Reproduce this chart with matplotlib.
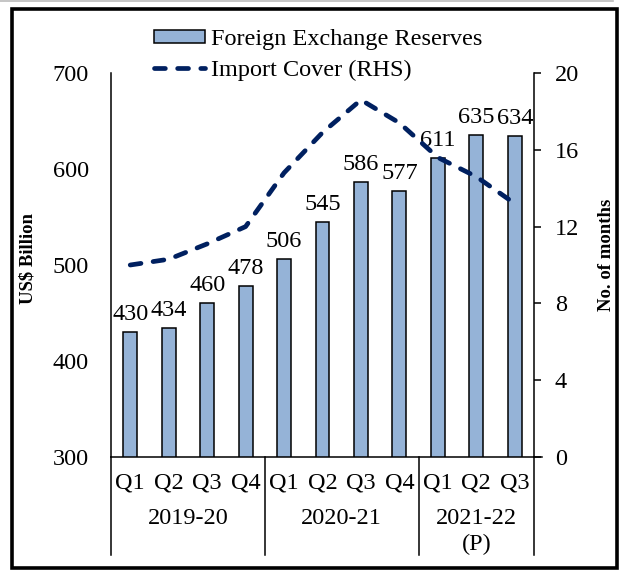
import numpy as np
import matplotlib
matplotlib.use("Agg")
import matplotlib.pyplot as plt
from matplotlib.lines import Line2D
from matplotlib.patches import Rectangle
import matplotlib.transforms as mtransforms

quarters = ["Q1", "Q2", "Q3", "Q4", "Q1", "Q2", "Q3", "Q4", "Q1", "Q2", "Q3"]
years = ["2019-20", "2020-21", "2021-22\n(P)"]
year_sizes = [4, 4, 3]
reserves = [430, 434, 460, 478, 506, 545, 586, 577, 611, 635, 634]  # US$ billion
import_cover = [10.0, 10.3, 11.1, 12.0, 14.8, 16.9, 18.6, 17.4, 15.6, 14.6, 13.2]  # months

plt.rcParams["font.family"] = ["Liberation Serif", "DejaVu Serif"]
plt.rcParams["font.size"] = 17.5

W, H = 622, 573
fig = plt.figure(figsize=(W / 100, H / 100), dpi=100)
ax = fig.add_axes([111 / W, 1 - 457 / H, 423 / W, 384 / H])
ax2 = ax.twinx()

x = np.arange(len(reserves))
bars = ax.bar(x, reserves, width=0.36, color="#95B3D7", edgecolor="black",
              linewidth=1.1, label="Foreign Exchange Reserves", zorder=2)
ax.bar_label(bars, labels=[str(v) for v in reserves], padding=5)

ax2.plot(x, import_cover, color="#002060", linewidth=3.4, linestyle=(0, (2.3, 2.6)),
         dash_capstyle="round", label="Import Cover (RHS)", zorder=3)

ax.set_xlim(-0.5, len(reserves) - 0.5)
ax.set_ylim(300, 700)
ax.set_yticks(np.arange(300, 701, 100))
ax2.set_ylim(0, 20)
ax2.set_yticks(np.arange(0, 21, 4))

for a in (ax, ax2):
    a.spines["top"].set_visible(False)
ax.spines["right"].set_visible(False)
ax2.spines["left"].set_visible(False)
ax2.spines["bottom"].set_visible(False)
ax.spines["left"].set_linewidth(1.1)
ax.spines["bottom"].set_linewidth(1.1)
ax2.spines["right"].set_linewidth(1.1)

ax.tick_params(axis="y", length=0, pad=16)
ax2.tick_params(axis="y", length=5, width=1.1, direction="out", pad=10)
ax.set_xticks(x)
ax.set_xticklabels(quarters)
ax.tick_params(axis="x", length=0, pad=11)

# the bottom axis line runs on to the right tick
trans = mtransforms.blended_transform_factory(ax.transData, ax.transAxes)
ax.add_line(Line2D([10.5, 10.72], [0, 0], transform=trans, color="black",
                   linewidth=1.1, clip_on=False))

# group separators and year labels below the quarters
bounds = np.concatenate([[0], np.cumsum(year_sizes)]) - 0.5
for b in bounds:
    ax.add_line(Line2D([b, b], [0, -0.255], transform=trans, color="black",
                       linewidth=1.1, clip_on=False))
for i, yr in enumerate(years):
    mid = (bounds[i] + bounds[i + 1]) / 2
    ax.text(mid, -0.134, yr, transform=trans, ha="center", va="top",
            linespacing=1.3)

ax.set_ylabel("US$ Billion", fontsize=13.5, fontweight="bold")
ax.yaxis.set_label_coords(-0.175, 0.516)
ax2.set_ylabel("No. of months", fontsize=13.5, fontweight="bold")
ax2.yaxis.set_label_coords(1.151, 0.526)

h1, l1 = ax.get_legend_handles_labels()
h2, l2 = ax2.get_legend_handles_labels()
fig.legend(h1 + h2, l1 + l2, loc="center", bbox_to_anchor=(318 / W, 1 - 55 / H),
           frameon=False, handlelength=2.1, handleheight=0.45, handletextpad=0.25,
           labelspacing=0.4, borderpad=0)

# outer frame
fig.add_artist(Rectangle((11.5 / W, 5 / H), 605.5 / W, 559.5 / H, transform=fig.transFigure,
                         fill=False, edgecolor="black", linewidth=2.6))
fig.add_artist(Line2D([0, 613 / W], [1 - 1 / H, 1 - 1 / H], transform=fig.transFigure,
                      color="#bbbbbb", linewidth=1.2))

fig.savefig("out.png", dpi=100)
